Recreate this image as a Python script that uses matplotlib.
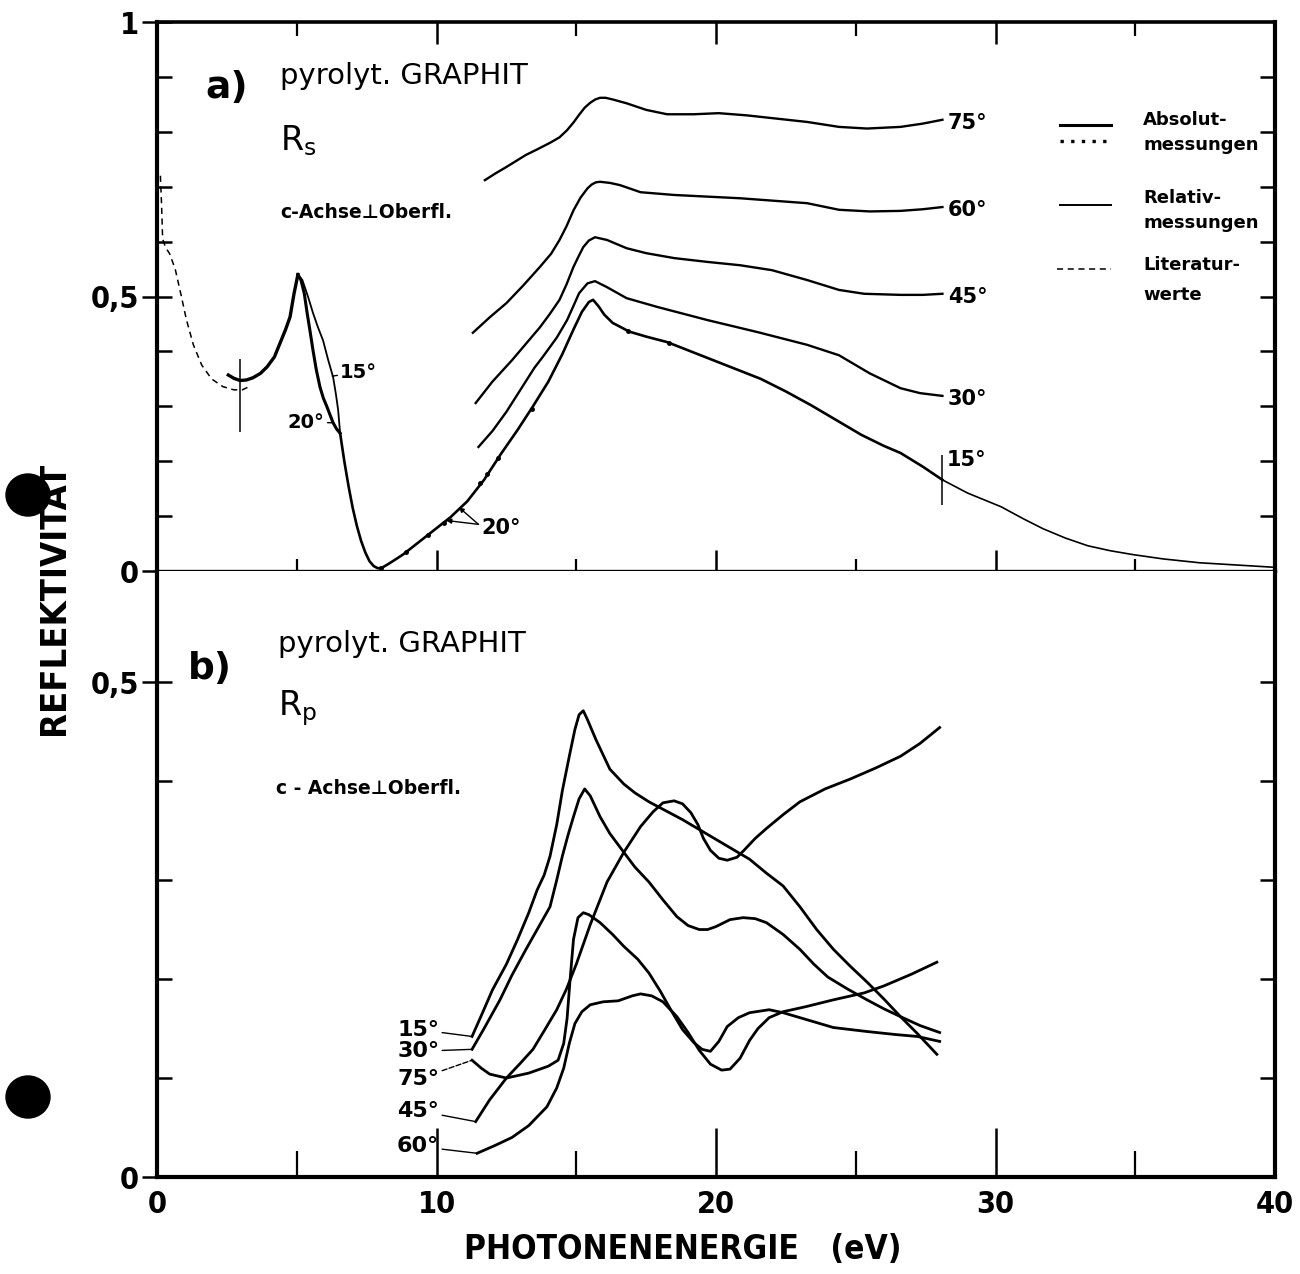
import numpy as np
import matplotlib
matplotlib.use("Agg")
import matplotlib.pyplot as plt
from matplotlib.patches import Ellipse
from matplotlib import ticker as tick

# ---------------- data (x: eV, y: reflectivity) ----------------
# a) R_s
lit_x = [0.12, 0.16, 0.2, 0.3, 0.45, 0.65, 0.85, 1.05, 1.3, 1.6, 1.95, 2.35, 2.75, 3.05, 3.3]
lit_y = [0.72, 0.67, 0.605, 0.59, 0.578, 0.55, 0.505, 0.458, 0.412, 0.375, 0.35, 0.336, 0.33, 0.33, 0.336]

rs_abs_x = [2.55, 2.75, 2.97, 3.2, 3.43, 3.7, 3.94, 4.2, 4.4, 4.6, 4.76, 4.9, 5.04]
rs_abs_y = [0.357, 0.351, 0.347, 0.348, 0.352, 0.36, 0.372, 0.39, 0.415, 0.44, 0.463, 0.505, 0.54]

rs15_fall_x = [5.04, 5.2, 5.4, 5.58, 5.75, 5.94, 6.12, 6.3, 6.4, 6.48, 6.55]
rs15_fall_y = [0.54, 0.53, 0.5, 0.47, 0.445, 0.42, 0.385, 0.353, 0.322, 0.293, 0.251]
rs20_fall_x = [5.04, 5.15, 5.27, 5.37, 5.48, 5.58, 5.7, 5.83, 5.95, 6.08, 6.2, 6.3, 6.42, 6.55]
rs20_fall_y = [0.54, 0.53, 0.505, 0.47, 0.435, 0.402, 0.366, 0.335, 0.315, 0.299, 0.283, 0.27, 0.259, 0.251]

rs15_x = [6.55, 6.7, 6.85, 7.0, 7.15, 7.3, 7.45, 7.6, 7.75, 7.9, 8.05, 8.25, 8.5, 8.8, 9.3, 9.9,
          10.5, 11.1, 11.7, 12.3, 12.9, 13.45, 14.0, 14.5, 14.9, 15.2, 15.45, 15.6, 15.8, 16.0, 16.3,
          16.9, 17.5, 18.25, 19.0, 19.9, 20.8, 21.6, 22.5, 23.4, 24.3, 25.2, 26.0, 26.6, 27.4, 28.1,
          29.0, 30.2, 31.0, 31.7, 32.5, 33.3, 34.1, 34.9, 36.0, 37.3, 38.6, 39.9]
rs15_y = [0.251, 0.2, 0.155, 0.115, 0.082, 0.055, 0.034, 0.018, 0.009, 0.005, 0.006, 0.012, 0.02, 0.03,
          0.05, 0.074, 0.098, 0.127, 0.166, 0.213, 0.257, 0.3, 0.345, 0.395, 0.44, 0.472, 0.49, 0.494,
          0.482, 0.467, 0.452, 0.436, 0.427, 0.417, 0.402, 0.384, 0.366, 0.35, 0.327, 0.302, 0.275,
          0.248, 0.228, 0.215, 0.19, 0.166, 0.142, 0.117, 0.095, 0.077, 0.06, 0.046, 0.037, 0.03,
          0.022, 0.015, 0.011, 0.007]

rs30_x = [11.5, 12.0, 12.5, 13.0, 13.5, 13.8, 14.3, 14.67, 14.9, 15.1, 15.4, 15.67, 16.1, 16.8, 17.9,
          19.7, 21.5, 23.26, 24.4, 25.5, 26.6, 27.3, 28.1]
rs30_y = [0.226, 0.255, 0.29, 0.33, 0.37, 0.39, 0.425, 0.457, 0.483, 0.506, 0.524, 0.528, 0.517, 0.497,
          0.481, 0.457, 0.435, 0.412, 0.393, 0.36, 0.333, 0.324, 0.319]
rs45_x = [11.4, 12.0, 12.7, 13.2, 13.7, 14.05, 14.4, 14.65, 14.9, 15.1, 15.25, 15.45, 15.67, 16.1, 16.8,
          17.5, 18.5, 19.7, 20.86, 22.0, 23.26, 24.4, 25.3, 26.6, 27.4, 28.1]
rs45_y = [0.306, 0.345, 0.384, 0.414, 0.444, 0.468, 0.494, 0.522, 0.554, 0.575, 0.59, 0.602, 0.608, 0.603,
          0.588, 0.579, 0.57, 0.563, 0.557, 0.548, 0.53, 0.512, 0.505, 0.503, 0.503, 0.505]
rs60_x = [11.3, 11.9, 12.5, 13.1, 13.7, 14.1, 14.4, 14.65, 14.9, 15.15, 15.4, 15.55, 15.7, 15.85, 16.2,
          16.56, 17.3, 18.5, 20.86, 23.26, 24.4, 25.5, 26.6, 27.4, 28.1]
rs60_y = [0.434, 0.462, 0.488, 0.52, 0.554, 0.578, 0.603, 0.628, 0.657, 0.68, 0.697, 0.704, 0.708, 0.709,
          0.707, 0.703, 0.69, 0.685, 0.679, 0.67, 0.658, 0.655, 0.656, 0.659, 0.663]
rs75_x = [11.73, 12.1, 12.5, 12.85, 13.2, 13.6, 14.06, 14.4, 14.67, 14.9, 15.1, 15.3, 15.5, 15.68, 15.85,
          16.05, 16.3, 16.8, 17.5, 18.25, 19.2, 20.1, 21.1, 22.0, 23.26, 24.4, 25.4, 26.6, 27.4, 28.1]
rs75_y = [0.712, 0.724, 0.736, 0.747, 0.758, 0.768, 0.78, 0.79, 0.803, 0.817, 0.831, 0.844, 0.853, 0.859,
          0.862, 0.862, 0.859, 0.852, 0.84, 0.832, 0.832, 0.834, 0.83, 0.825, 0.818, 0.809, 0.806, 0.809,
          0.815, 0.822]

abs_dot_x = [8.0, 8.9, 9.7, 10.25, 11.55, 11.8, 12.2, 13.4, 16.85, 18.3]
abs_dot_y = [0.006, 0.034, 0.066, 0.088, 0.16, 0.176, 0.205, 0.296, 0.437, 0.416]

bar_x = [2.97, 28.1]
bar_lo = [0.253, 0.12]
bar_hi = [0.386, 0.211]

# b) R_p
rp15_x = [11.27, 11.6, 12.0, 12.5, 12.9, 13.3, 13.6, 13.85, 14.06, 14.3, 14.5, 14.75, 14.95, 15.1, 15.25,
          15.4, 15.7, 16.2, 16.7, 17.1, 17.6, 18.2, 18.8, 19.4, 20.0, 20.6, 21.2, 21.8, 22.4, 23.0, 23.6,
          24.2, 24.8, 25.4, 26.0, 26.6, 27.2, 27.9]
rp15_y = [0.142, 0.163, 0.189, 0.215, 0.24, 0.267, 0.29, 0.305, 0.324, 0.356, 0.39, 0.425, 0.452, 0.467,
          0.471, 0.462, 0.442, 0.412, 0.397, 0.388, 0.379, 0.37, 0.361, 0.351, 0.341, 0.331, 0.321, 0.307,
          0.294, 0.273, 0.25, 0.23, 0.213, 0.197, 0.18, 0.162, 0.145, 0.124]
rp30_x = [11.27, 11.7, 12.27, 12.7, 13.2, 13.6, 14.06, 14.3, 14.5, 14.7, 14.9, 15.1, 15.3, 15.5, 15.85,
          16.2, 16.7, 17.1, 17.6, 18.1, 18.6, 19.0, 19.4, 19.7, 20.0, 20.5, 20.97, 21.4, 21.8, 22.4, 23.0,
          23.5, 24.0, 24.7, 25.4, 26.0, 26.6, 27.3, 28.0]
rp30_y = [0.129, 0.15, 0.179, 0.204, 0.23, 0.25, 0.273, 0.3, 0.324, 0.345, 0.364, 0.382, 0.392, 0.385,
          0.364, 0.347, 0.328, 0.313, 0.298, 0.28, 0.263, 0.254, 0.25, 0.25, 0.253, 0.26, 0.262, 0.261,
          0.257, 0.245, 0.23, 0.215, 0.202, 0.19, 0.179, 0.17, 0.162, 0.153, 0.146]
rp45_x = [11.4, 11.9, 12.5, 13.0, 13.45, 13.9, 14.3, 14.65, 15.0, 15.5, 16.1, 16.7, 17.3, 17.75, 18.1,
          18.5, 18.8, 19.1, 19.35, 19.55, 19.8, 20.1, 20.4, 20.75, 21.0, 21.4, 21.8, 22.4, 23.0, 23.9,
          24.8, 25.7, 26.6, 27.3, 28.0]
rp45_y = [0.056, 0.078, 0.1, 0.115, 0.129, 0.15, 0.169, 0.19, 0.215, 0.255, 0.298, 0.328, 0.354, 0.369,
          0.378, 0.38, 0.377, 0.368, 0.356, 0.342, 0.33, 0.322, 0.32, 0.323, 0.33, 0.342, 0.352, 0.366,
          0.379, 0.392, 0.402, 0.413, 0.425, 0.438, 0.454]
rp60_x = [11.45, 12.1, 12.7, 13.3, 13.95, 14.3, 14.55, 14.75, 14.95, 15.2, 15.5, 15.96, 16.5, 17.0, 17.3,
          17.7, 18.1, 18.6, 19.0, 19.4, 19.8, 20.2, 20.5, 20.86, 21.2, 21.5, 21.9, 22.4, 23.2, 24.2, 25.3,
          26.0, 27.0, 27.9]
rp60_y = [0.024, 0.032, 0.04, 0.052, 0.071, 0.09, 0.11, 0.135, 0.155, 0.167, 0.174, 0.177, 0.178, 0.183,
          0.185, 0.183, 0.177, 0.162, 0.146, 0.128, 0.114, 0.108, 0.109, 0.12, 0.138, 0.15, 0.161, 0.167,
          0.172, 0.179, 0.186, 0.193, 0.205, 0.217]
rp75_x = [11.27, 11.6, 11.9, 12.5, 13.3, 14.0, 14.35, 14.55, 14.67, 14.78, 14.9, 15.06, 15.25, 15.45,
          15.85, 16.3, 16.7, 17.2, 17.6, 18.0, 18.4, 18.8, 19.2, 19.5, 19.8, 20.1, 20.4, 20.8, 21.2, 21.9,
          22.4, 23.0, 23.6, 24.2, 25.4, 26.4, 27.2, 28.0]
rp75_y = [0.118, 0.11, 0.104, 0.1, 0.105, 0.112, 0.118, 0.135, 0.16, 0.2, 0.24, 0.262, 0.267, 0.265,
          0.257, 0.245, 0.233, 0.22, 0.206, 0.188, 0.168, 0.149, 0.136, 0.129, 0.127, 0.137, 0.152, 0.161,
          0.166, 0.169, 0.166, 0.161, 0.156, 0.151, 0.147, 0.144, 0.142, 0.137]

rs_curves = [(rs30_x, rs30_y, "30°"), (rs45_x, rs45_y, "45°"), (rs60_x, rs60_y, "60°"), (rs75_x, rs75_y, "75°")]
rp_curves = [(rp15_x, rp15_y, "15°", 0.149, "-"), (rp30_x, rp30_y, "30°", 0.127, "-"),
             (rp75_x, rp75_y, "75°", 0.099, "--"), (rp45_x, rp45_y, "45°", 0.067, "-"),
             (rp60_x, rp60_y, "60°", 0.031, "-")]

PLAIN = ["DejaVu Sans"]
F = 22

fig = plt.figure(figsize=(13, 12.74), dpi=100)
axa = fig.add_axes([0.1208, 0.5518, 0.8600, 0.4309])
axb = fig.add_axes([0.1208, 0.0761, 0.8600, 0.4757])


def frame(ax, ymax, yt, ylab, nminor):
    ax.set_xlim(0, 40)
    ax.set_ylim(0, ymax)
    ax.set_yticks(yt, ylab)
    minor = np.arange(1, nminor + 1) / 10
    ax.yaxis.set_minor_locator(tick.FixedLocator(minor))
    ax.xaxis.set_major_locator(tick.MultipleLocator(10))
    ax.xaxis.set_minor_locator(tick.MultipleLocator(5))
    ax.spines["left"].set_linewidth(3.0)
    ax.spines["right"].set_visible(False)
    ax.tick_params(axis="y", which="major", direction="inout", length=22, width=1.8, pad=2,
                   right=False)
    ax.tick_params(axis="y", which="minor", direction="in", length=11, width=1.8, right=False)
    for t in ax.get_yticklabels():
        t.set_family(PLAIN)
        t.set_weight("bold")
        t.set_fontsize(F)
        t.set_fontstretch("condensed")
    r = ax.secondary_yaxis("right")
    r.set_yticks(minor)
    r.tick_params(axis="y", direction="in", length=11, width=1.8, labelright=False)
    r.spines["right"].set_linewidth(3.0)


# ---------------- panel a ----------------
frame(axa, 1.0, [0, 0.5, 1.0], ["0", "0,5", "1"], 9)
axa.spines["top"].set_visible(False)
axa.spines["bottom"].set_linewidth(2.4)
axa.tick_params(axis="x", which="major", direction="inout", length=30, width=1.8, labelbottom=False)
axa.tick_params(axis="x", which="minor", direction="inout", length=17, width=1.6)
top = axa.secondary_xaxis("top")
top.xaxis.set_major_locator(tick.MultipleLocator(10))
top.xaxis.set_minor_locator(tick.MultipleLocator(5))
top.tick_params(axis="x", which="major", direction="in", length=16, width=1.8, labeltop=False)
top.tick_params(axis="x", which="minor", direction="in", length=10, width=1.6)
top.spines["top"].set_linewidth(2.6)

axa.plot(lit_x, lit_y, color="k", lw=1.1, ls=(0, (4, 3)))
axa.plot(rs_abs_x, rs_abs_y, color="k", lw=2.4, solid_joinstyle="round")
axa.plot(rs20_fall_x, rs20_fall_y, color="k", lw=2.2, solid_joinstyle="round")
axa.plot(rs15_fall_x, rs15_fall_y, color="k", lw=1.3, solid_joinstyle="round")
x15 = np.array(rs15_x)
y15 = np.array(rs15_y)
main = x15 <= 28.1
tail = x15 >= 28.1
axa.plot(x15[main], y15[main], color="k", lw=1.9, solid_joinstyle="round")
axa.plot(x15[tail], y15[tail], color="k", lw=1.2)
axa.plot(abs_dot_x, abs_dot_y, "k.", ms=5)
axa.vlines(bar_x, bar_lo, bar_hi, color="k", lw=1.1)

for xs, ys, lab in rs_curves:
    axa.plot(xs, ys, color="k", lw=1.7, solid_joinstyle="round")
    axa.annotate(lab, xy=(xs[-1], ys[-1]), xytext=(4, -2), textcoords="offset points",
                 ha="left", va="center", fontsize=15, fontweight="bold", family=PLAIN)
axa.annotate("15°", xy=(x15[main][-1], y15[main][-1]), xytext=(3, 14), textcoords="offset points",
             ha="left", va="center", fontsize=15, fontweight="bold", family=PLAIN)

# small angle labels near the first peak
axa.annotate("15°", xy=(6.27, 0.355), xytext=(6.55, 0.362), ha="left", va="center", fontsize=14,
             fontweight="bold", family=PLAIN, arrowprops=dict(arrowstyle="-", lw=1.0, shrinkA=0, shrinkB=0))
axa.annotate("20°", xy=(6.32, 0.27), xytext=(6.0, 0.271), ha="right", va="center", fontsize=14,
             fontweight="bold", family=PLAIN, arrowprops=dict(arrowstyle="-", lw=1.0, shrinkA=0, shrinkB=0))
axa.text(11.62, 0.078, "20°", ha="left", va="center", fontsize=15, fontweight="bold", family=PLAIN)
for px, py in [(10.35, 0.092), (10.8, 0.116)]:
    axa.annotate("", xy=(px, py), xytext=(11.5, 0.085),
                 arrowprops=dict(arrowstyle="-|>", lw=1.0, mutation_scale=7, color="k",
                                 shrinkA=0, shrinkB=0))

axa.text(1.72, 0.862, "a)", fontsize=27, fontweight="bold", family=PLAIN, va="baseline")
axa.text(4.4, 0.887, "pyrolyt. GRAPHIT", fontsize=21, family=PLAIN, va="baseline")
axa.text(4.4, 0.767, r"R$_\mathregular{s}$", fontsize=24, family=PLAIN, va="baseline")
axa.text(4.4, 0.643, "c-Achse⊥Oberfl.", fontsize=13.5, fontweight="bold", family=PLAIN, va="baseline")

# legend (drawn by hand, in axes fraction)
T = axa.transAxes
lx0, lx1 = (1060 - 157) / 1118, (1111 - 157) / 1118
axa.plot([lx0, lx1], [0.813, 0.813], transform=T, color="k", lw=2.2)
axa.plot([lx0, lx1], [0.784, 0.784], transform=T, color="k", lw=2.4, ls=(0, (1, 2.2)))
axa.plot([lx0, lx1], [0.667, 0.667], transform=T, color="k", lw=1.4)
axa.plot([lx0 - 0.003, lx1], [0.551, 0.551], transform=T, color="k", lw=1.1, ls=(0, (4, 3)))
for ty, s in [(0.812, "Absolut-"), (0.767, "messungen"), (0.670, "Relativ-"), (0.625, "messungen"),
              (0.548, "Literatur-"), (0.494, "werte")]:
    axa.text(0.882, ty, s, transform=T, fontsize=13, fontweight="bold", family=PLAIN, va="baseline")

# ---------------- panel b ----------------
ymax_b = (1177 - 571) / 990
frame(axb, ymax_b, [0, 0.5], ["0", "0,5"], 5)
axb.spines["top"].set_visible(False)
axb.spines["bottom"].set_linewidth(3.0)
axb.tick_params(axis="x", which="major", direction="in", length=35, width=1.8, pad=9)
axb.tick_params(axis="x", which="minor", direction="in", length=19, width=1.6)
for t in axb.get_xticklabels():
    t.set_family(PLAIN)
    t.set_weight("bold")
    t.set_fontsize(F)
    t.set_fontstretch("condensed")

for xs, ys, lab, ly, ls in rp_curves:
    axb.plot(xs, ys, color="k", lw=2.0, solid_joinstyle="round")
    axb.annotate(lab, xy=(xs[0], ys[0]), xytext=(10.1, ly), ha="right", va="center", fontsize=16,
                 fontweight="bold", family=PLAIN,
                 arrowprops=dict(arrowstyle="-", lw=1.0, ls=ls, shrinkA=0, shrinkB=1))

axb.text(1.1, 0.503, "b)", fontsize=27, fontweight="bold", family=PLAIN, va="baseline")
axb.text(4.32, 0.530, "pyrolyt. GRAPHIT", fontsize=21, family=PLAIN, va="baseline")
axb.text(4.32, 0.466, r"R$_\mathregular{p}$", fontsize=24, family=PLAIN, va="baseline")
axb.text(4.26, 0.387, "c - Achse⊥Oberfl.", fontsize=13.5, fontweight="bold", family=PLAIN, va="baseline")

axb.set_xlabel("PHOTONENENERGIE   (eV)", family=PLAIN, fontweight="bold", fontsize=24,
               fontstretch="condensed")
axb.xaxis.set_label_coords(0.47, -0.093)
fig.text(54 / 1300, 1 - 598 / 1274, "REFLEKTIVITÄT", rotation=90, ha="center", va="center",
         family=PLAIN, fontweight="bold", fontsize=26, fontstretch="condensed")

# punch holes of the scanned page
for cy in [495, 1097]:
    fig.patches.append(Ellipse((28 / 1300, 1 - cy / 1274), 44 / 1300, 42 / 1274,
                               transform=fig.transFigure, color="k"))

fig.savefig("out.png", dpi=100, facecolor="white")
